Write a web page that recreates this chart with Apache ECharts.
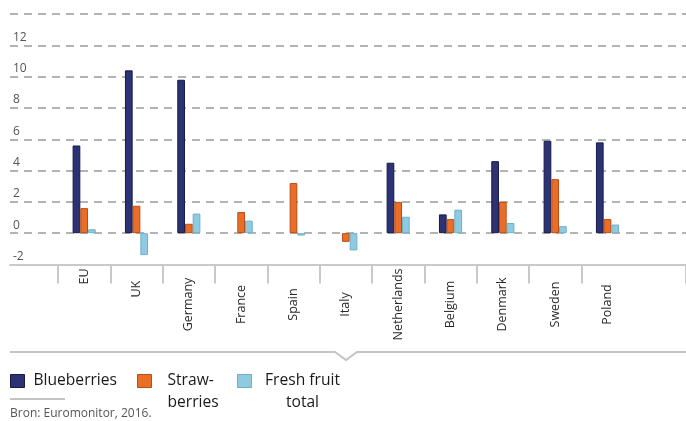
<!DOCTYPE html>
<html>
<head>
<meta charset="utf-8">
<style>
  html, body { margin: 0; padding: 0; background: #ffffff; }
  #chart { width: 686px; height: 421px; }
</style>
<script src="https://cdn.jsdelivr.net/npm/echarts@6/dist/echarts.min.js"></script>
</head>
<body>
<div id="chart"></div>
<script>
// ---- data ----
const categories = ['EU', 'UK', 'Germany', 'France', 'Spain', 'Italy', 'Netherlands', 'Belgium', 'Denmark', 'Sweden', 'Poland'];
const blueberries = [5.6, 10.4, 9.8, null, null, null, 4.5, 1.2, 4.6, 5.9, 5.8];
const strawberries = [1.6, 1.75, 0.6, 1.35, 3.2, -0.55, 2.0, 0.9, 2.0, 3.45, 0.9];
const freshFruit = [0.25, -1.4, 1.25, 0.8, -0.15, -1.1, 1.05, 1.5, 0.65, 0.45, 0.55];
const seriesNames = ['Blueberries', 'Strawberries', 'Fresh fruit total'];
const legendLines = [['Blueberries'], ['Straw-', 'berries'], ['Fresh fruit', 'total']];
const yMin = -2, yMax = 14, yStep = 2;
const sourceText = 'Bron: Euromonitor, 2016.';

// ---- styling ----
const colors = ['#2c3374', '#ea6e27', '#8fcbe0'];
const borders = ['#161a45', '#b94d12', '#6fb0c8'];
const font = "'Open Sans', 'Noto Sans', sans-serif";
const legendFont = 15.6;

const chart = echarts.init(document.getElementById('chart'), null, { renderer: 'canvas' });

// category data with a trailing empty band so the last boundary tick falls off-canvas
const xData = categories.map(function (c, i) {
  const item = { value: c };
  if (i === 0) item.textStyle = { align: 'left', padding: [0, 0, 0, 20] };
  if (i === 1) item.textStyle = { align: 'left', padding: [0, 0, 0, 7] };
  return item;
}).concat(['']);

const bandW = 52.8;

function legendFor(i, left, top) {
  const lines = legendLines[i];
  const rich = { c: { width: i === 2 ? 78 : undefined, align: i === 2 ? 'center' : 'left', lineHeight: 22, fontSize: legendFont, fontFamily: font, color: '#1a1a1a' } };
  return {
    show: true,
    data: [{ name: seriesNames[i], icon: 'rect' }],
    left: left,
    top: top,
    padding: 0,
    itemWidth: 14,
    itemHeight: 13,
    selectedMode: false,
    formatter: function () { return lines.map(function (l) { return '{c|' + l + '}'; }).join('\n'); },
    textStyle: {
      fontSize: legendFont,
      fontFamily: font,
      color: '#1a1a1a',
      lineHeight: 22,
      padding: [lines.length > 1 ? 22 : 0, 0, 0, i === 0 ? 4 : (i === 1 ? 11 : 7)],
      rich: rich
    },
    itemStyle: { borderColor: borders[i], borderWidth: 1 }
  };
}

const option = {
  backgroundColor: '#ffffff',
  animation: false,
  grid: [
    { left: 10, right: 0, top: 14, height: 250.5, containLabel: false },
    { left: 58, width: bandW * (categories.length + 1), top: 14, height: 250.5, containLabel: false }
  ],
  xAxis: [
    {
      gridIndex: 0, type: 'value', min: 0, max: 1, position: 'bottom',
      axisLine: { show: true, onZero: false, lineStyle: { color: '#c9c9c9', width: 2 } },
      axisTick: { show: false }, axisLabel: { show: false }, splitLine: { show: false }
    },
    {
      gridIndex: 1, type: 'category', data: xData, position: 'bottom',
      axisLine: { show: false, onZero: false },
      axisTick: {
        show: true, length: 19,
        interval: function (idx) { return idx < categories.length; },
        lineStyle: { color: '#c9c9c9', width: 2 }
      },
      axisLabel: {
        show: true, rotate: 90, align: 'center', verticalAlign: 'middle', margin: 40,
        interval: 0,
        fontSize: 12.5, fontFamily: font, color: '#2a2a2a'
      },
      splitLine: { show: false }
    }
  ],
  yAxis: [
    {
      gridIndex: 0, type: 'value', min: yMin, max: yMax, interval: yStep,
      axisLine: { show: false }, axisTick: { show: false },
      axisLabel: {
        inside: true, margin: 3, verticalAlign: 'bottom', align: 'left',
        showMaxLabel: false,
        fontSize: 12, lineHeight: 14, padding: [0, 0, 1, 0],
        fontFamily: font, color: '#555555'
      },
      splitLine: { show: true, lineStyle: { color: '#b3b3b3', width: 2, type: [8, 6] } }
    },
    {
      gridIndex: 1, type: 'value', min: yMin, max: yMax, interval: yStep, show: false,
      splitLine: { show: false }
    }
  ],
  legend: [legendFor(0, 10, 370), legendFor(1, 137, 348), legendFor(2, 237, 348)],
  series: [blueberries, strawberries, freshFruit].map(function (d, i) {
    return {
      name: seriesNames[i], type: 'bar', xAxisIndex: 1, yAxisIndex: 1,
      data: d, barWidth: 7.7, barGap: '0%',
      itemStyle: { color: colors[i], borderColor: borders[i], borderWidth: 1 }
    };
  }),
  graphic: [
    { type: 'polyline', shape: { points: [[10, 352], [335, 352], [346, 360], [357, 352], [686, 352]] },
      style: { stroke: '#c4c4c4', lineWidth: 2, fill: null } },
    { type: 'line', shape: { x1: 10, y1: 399, x2: 65, y2: 399 }, style: { stroke: '#b0b0b0', lineWidth: 1.5 } },
    { type: 'text', left: 10, top: 408,
      style: { text: sourceText, fontSize: 12, fontFamily: "'Liberation Sans Narrow', 'Open Sans', sans-serif", fill: '#555555' } }
  ]
};

chart.setOption(option);
</script>
</body>
</html>
